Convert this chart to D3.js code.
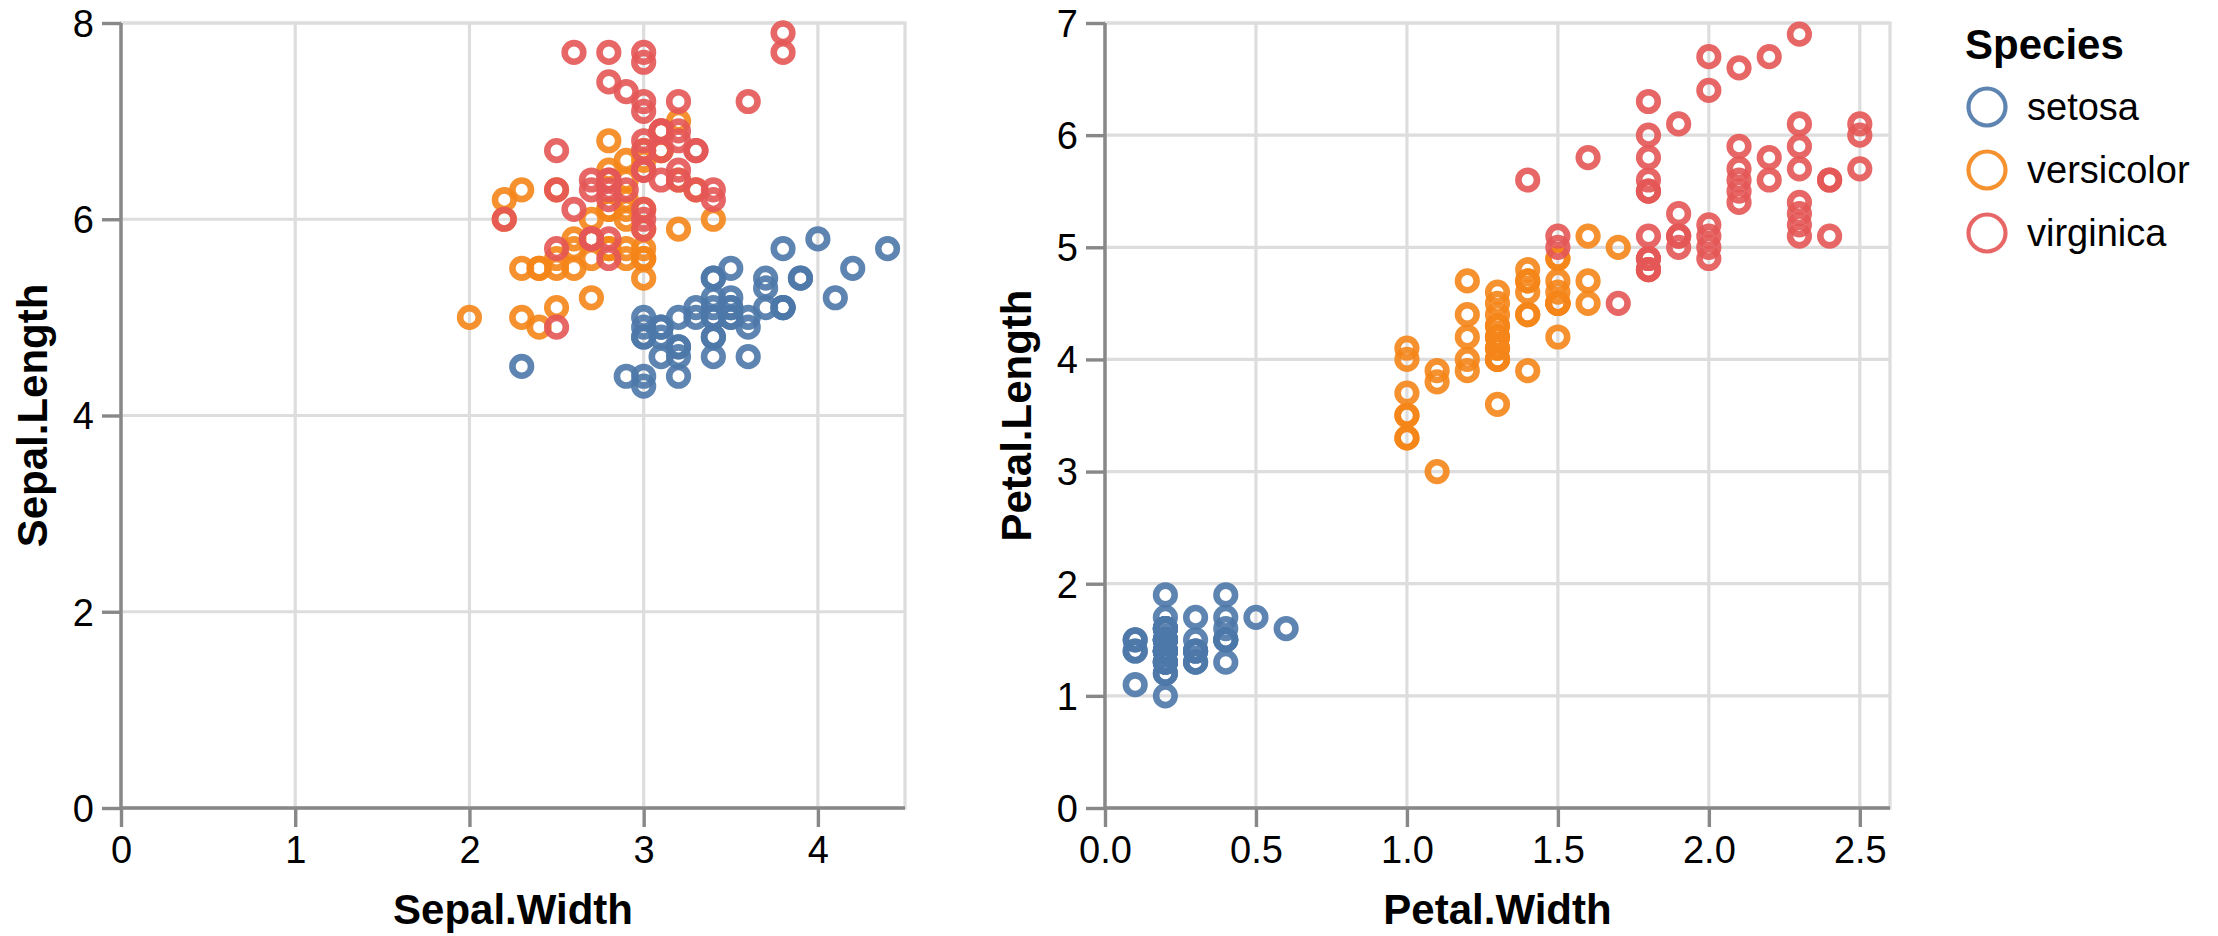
<!DOCTYPE html>
<html>
<head>
<meta charset="utf-8">
<script src="https://cdn.jsdelivr.net/npm/d3@7"></script>
<style>
  html, body { margin: 0; padding: 0; background: #fff; }
  svg { display: block; font-family: "Liberation Sans", Arial, Helvetica, sans-serif; }
</style>
</head>
<body>
<svg id="chart" width="2218" height="936"></svg>
<script>
// ---- Data (Fisher's iris) ----
const species = ["setosa", "versicolor", "virginica"];
const speciesColors = ["#4c78a8", "#f58518", "#e45756"];

const sepalLength = [
  5.1,4.9,4.7,4.6,5.0,5.4,4.6,5.0,4.4,4.9,5.4,4.8,4.8,4.3,5.8,5.7,5.4,5.1,5.7,5.1,5.4,5.1,4.6,5.1,4.8,
  5.0,5.0,5.2,5.2,4.7,4.8,5.4,5.2,5.5,4.9,5.0,5.5,4.9,4.4,5.1,5.0,4.5,4.4,5.0,5.1,4.8,5.1,4.6,5.3,5.0,
  7.0,6.4,6.9,5.5,6.5,5.7,6.3,4.9,6.6,5.2,5.0,5.9,6.0,6.1,5.6,6.7,5.6,5.8,6.2,5.6,5.9,6.1,6.3,6.1,6.4,
  6.6,6.8,6.7,6.0,5.7,5.5,5.5,5.8,6.0,5.4,6.0,6.7,6.3,5.6,5.5,5.5,6.1,5.8,5.0,5.6,5.7,5.7,6.2,5.1,5.7,
  6.3,5.8,7.1,6.3,6.5,7.6,4.9,7.3,6.7,7.2,6.5,6.4,6.8,5.7,5.8,6.4,6.5,7.7,7.7,6.0,6.9,5.6,7.7,6.3,6.7,
  7.2,6.2,6.1,6.4,7.2,7.4,7.9,6.4,6.3,6.1,7.7,6.3,6.4,6.0,6.9,6.7,6.9,5.8,6.8,6.7,6.7,6.3,6.5,6.2,5.9
];
const sepalWidth = [
  3.5,3.0,3.2,3.1,3.6,3.9,3.4,3.4,2.9,3.1,3.7,3.4,3.0,3.0,4.0,4.4,3.9,3.5,3.8,3.8,3.4,3.7,3.6,3.3,3.4,
  3.0,3.4,3.5,3.4,3.2,3.1,3.4,4.1,4.2,3.1,3.2,3.5,3.6,3.0,3.4,3.5,2.3,3.2,3.5,3.8,3.0,3.8,3.2,3.7,3.3,
  3.2,3.2,3.1,2.3,2.8,2.8,3.3,2.4,2.9,2.7,2.0,3.0,2.2,2.9,2.9,3.1,3.0,2.7,2.2,2.5,3.2,2.8,2.5,2.8,2.9,
  3.0,2.8,3.0,2.9,2.6,2.4,2.4,2.7,2.7,3.0,3.4,3.1,2.3,3.0,2.5,2.6,3.0,2.6,2.3,2.7,3.0,2.9,2.9,2.5,2.8,
  3.3,2.7,3.0,2.9,3.0,3.0,2.5,2.9,2.5,3.6,3.2,2.7,3.0,2.5,2.8,3.2,3.0,3.8,2.6,2.2,3.2,2.8,2.8,2.7,3.3,
  3.2,2.8,3.0,2.8,3.0,2.8,3.8,2.8,2.8,2.6,3.0,3.4,3.1,3.0,3.1,3.1,3.1,2.7,3.2,3.3,3.0,2.5,3.0,3.4,3.0
];
const petalLength = [
  1.4,1.4,1.3,1.5,1.4,1.7,1.4,1.5,1.4,1.5,1.5,1.6,1.4,1.1,1.2,1.5,1.3,1.4,1.7,1.5,1.7,1.5,1.0,1.7,1.9,
  1.6,1.6,1.5,1.4,1.6,1.6,1.5,1.5,1.4,1.5,1.2,1.3,1.4,1.3,1.5,1.3,1.3,1.3,1.6,1.9,1.4,1.6,1.4,1.5,1.4,
  4.7,4.5,4.9,4.0,4.6,4.5,4.7,3.3,4.6,3.9,3.5,4.2,4.0,4.7,3.6,4.4,4.5,4.1,4.5,3.9,4.8,4.0,4.9,4.7,4.3,
  4.4,4.8,5.0,4.5,3.5,3.8,3.7,3.9,5.1,4.5,4.5,4.7,4.4,4.1,4.0,4.4,4.6,4.0,3.3,4.2,4.2,4.2,4.3,3.0,4.1,
  6.0,5.1,5.9,5.6,5.8,6.6,4.5,6.3,5.8,6.1,5.1,5.3,5.5,5.0,5.1,5.3,5.5,6.7,6.9,5.0,5.7,4.9,6.7,4.9,5.7,
  6.0,4.8,4.9,5.6,5.8,6.1,6.4,5.6,5.1,5.6,6.1,5.6,5.5,4.8,5.4,5.6,5.1,5.1,5.9,5.7,5.2,5.0,5.2,5.4,5.1
];
const petalWidth = [
  0.2,0.2,0.2,0.2,0.2,0.4,0.3,0.2,0.2,0.1,0.2,0.2,0.1,0.1,0.2,0.4,0.4,0.3,0.3,0.3,0.2,0.4,0.2,0.5,0.2,
  0.2,0.4,0.2,0.2,0.2,0.2,0.4,0.1,0.2,0.2,0.2,0.2,0.1,0.2,0.2,0.3,0.3,0.2,0.6,0.4,0.3,0.2,0.2,0.2,0.2,
  1.4,1.5,1.5,1.3,1.5,1.3,1.6,1.0,1.3,1.4,1.0,1.5,1.0,1.4,1.3,1.4,1.5,1.0,1.5,1.1,1.8,1.3,1.5,1.2,1.3,
  1.4,1.4,1.7,1.5,1.0,1.1,1.0,1.2,1.6,1.5,1.6,1.5,1.3,1.3,1.3,1.2,1.4,1.2,1.0,1.3,1.2,1.3,1.3,1.1,1.3,
  2.5,1.9,2.1,1.8,2.2,2.1,1.7,1.8,1.8,2.5,2.0,1.9,2.1,2.0,2.4,2.3,1.8,2.2,2.3,1.5,2.3,2.0,2.0,1.8,2.1,
  1.8,1.8,1.8,2.1,1.6,1.9,2.0,2.2,1.5,1.4,2.3,2.4,1.8,1.8,2.1,2.4,2.3,1.9,2.3,2.5,2.3,1.9,2.0,2.3,1.8
];
const speciesOf = [
  ...Array(50).fill("setosa"), ...Array(50).fill("versicolor"), ...Array(50).fill("virginica")
];

// tick labels / domains
const leftXTicks = [0, 1, 2, 3, 4];
const leftYTicks = [0, 2, 4, 6, 8];
const rightXTicks = [0, 0.5, 1.0, 1.5, 2.0, 2.5];
const rightYTicks = [0, 1, 2, 3, 4, 5, 6, 7];

const rows = sepalLength.map((d, i) => ({
  sl: d, sw: sepalWidth[i], pl: petalLength[i], pw: petalWidth[i], sp: speciesOf[i]
}));

// ---- Layout ----
const svg = d3.select("#chart");
const color = d3.scaleOrdinal().domain(species).range(speciesColors);

const PH = 785, TOP = 23;
const TICK = 19, PAD = 8;
const GRID_W = 3.2, DOMAIN_W = 3.4;
const LABEL_FS = 38, TITLE_FS = 42;
const POINT_R = 9.3, POINT_SW = 6.6;

function panel(opts) {
  const g = svg.append("g").attr("transform", `translate(${opts.left},${TOP})`);
  const x = d3.scaleLinear().domain(opts.xDomain).range([0, opts.width]);
  const y = d3.scaleLinear().domain(opts.yDomain).range([PH, 0]);

  // view border
  g.append("rect").attr("x", 0).attr("y", 0).attr("width", opts.width).attr("height", PH)
    .attr("fill", "none").attr("stroke", "#ddd").attr("stroke-width", GRID_W);

  // grid
  g.append("g").selectAll("line").data(opts.xTicks).join("line")
    .attr("x1", d => x(d)).attr("x2", d => x(d)).attr("y1", 0).attr("y2", PH)
    .attr("stroke", "#ddd").attr("stroke-width", GRID_W);
  g.append("g").selectAll("line").data(opts.yTicks).join("line")
    .attr("y1", d => y(d)).attr("y2", d => y(d)).attr("x1", 0).attr("x2", opts.width)
    .attr("stroke", "#ddd").attr("stroke-width", GRID_W);

  // x axis
  const xa = g.append("g").attr("transform", `translate(0,${PH})`)
    .call(d3.axisBottom(x).tickValues(opts.xTicks).tickFormat(opts.xFmt).tickSize(TICK).tickPadding(PAD));
  // y axis
  const ya = g.append("g")
    .call(d3.axisLeft(y).tickValues(opts.yTicks).tickFormat(d3.format("d")).tickSize(TICK).tickPadding(PAD));

  [xa, ya].forEach(a => {
    a.select(".domain").attr("stroke", "#888").attr("stroke-width", DOMAIN_W)
      .attr("d", a === xa ? `M0,0H${opts.width}` : `M0,0V${PH}`);
    a.selectAll(".tick line").attr("stroke", "#888").attr("stroke-width", DOMAIN_W);
    a.selectAll(".tick text").attr("fill", "#000").attr("font-size", LABEL_FS)
      .attr("font-family", "Liberation Sans, Arial, sans-serif");
  });
  xa.selectAll(".tick text").attr("dy", "0.74em");
  ya.selectAll(".tick text").attr("dy", "0.35em");

  // axis titles
  g.append("text").attr("x", opts.width / 2).attr("y", PH + 116)
    .attr("text-anchor", "middle").attr("font-weight", "bold").attr("font-size", TITLE_FS)
    .attr("fill", "#000").text(opts.xTitle);
  g.append("text").attr("transform", `translate(-74,${PH / 2}) rotate(-90)`)
    .attr("text-anchor", "middle").attr("font-weight", "bold").attr("font-size", TITLE_FS)
    .attr("fill", "#000").text(opts.yTitle);

  // points
  g.append("g").selectAll("circle").data(rows).join("circle")
    .attr("cx", d => x(d[opts.xKey])).attr("cy", d => y(d[opts.yKey]))
    .attr("r", POINT_R).attr("fill", "none")
    .attr("stroke", d => color(d.sp)).attr("stroke-width", POINT_SW).attr("stroke-opacity", 0.9);
}

panel({
  left: 121, width: 784, xDomain: [0, 4.5], yDomain: [0, 8],
  xTicks: leftXTicks, yTicks: leftYTicks, xFmt: d3.format("d"),
  xKey: "sw", yKey: "sl", xTitle: "Sepal.Width", yTitle: "Sepal.Length"
});
panel({
  left: 1105, width: 785, xDomain: [0, 2.6], yDomain: [0, 7],
  xTicks: rightXTicks, yTicks: rightYTicks, xFmt: d3.format(".1f"),
  xKey: "pw", yKey: "pl", xTitle: "Petal.Width", yTitle: "Petal.Length"
});

// ---- Legend ----
const lg = svg.append("g").attr("transform", "translate(1965,0)");
lg.append("text").attr("x", 0).attr("y", 59).attr("font-weight", "bold")
  .attr("font-size", TITLE_FS).attr("fill", "#000").text("Species");
const items = lg.selectAll("g.item").data(species).join("g")
  .attr("class", "item").attr("transform", (d, i) => `translate(0,${107 + i * 63})`);
items.append("circle").attr("cx", 22).attr("cy", 0).attr("r", 18.5)
  .attr("fill", "none").attr("stroke", d => color(d)).attr("stroke-width", 4.2).attr("stroke-opacity", 0.9);
items.append("text").attr("x", 62).attr("y", 0).attr("dy", "0.35em")
  .attr("font-size", LABEL_FS).attr("fill", "#000").text(d => d);
</script>
</body>
</html>
